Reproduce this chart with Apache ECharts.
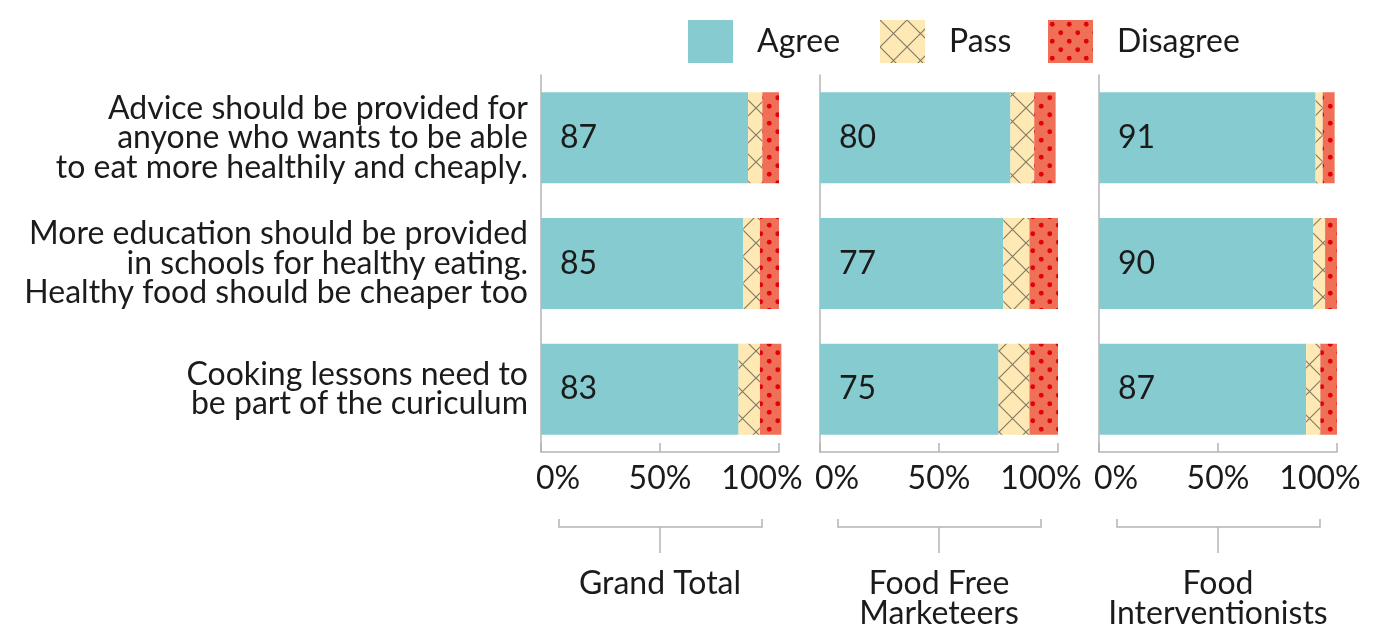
<!DOCTYPE html>
<html>
<head>
<meta charset="utf-8">
<script src="https://cdn.jsdelivr.net/npm/echarts@6/dist/echarts.min.js"></script>
<style>
  html, body { margin: 0; padding: 0; background: #fff; }
  #chart { width: 1375px; height: 626px; }
</style>
</head>
<body>
<div id="chart"></div>
<script>
// ---- data ----
const categories = [
  'Advice should be provided for\nanyone who wants to be able\nto eat more healthily and cheaply.',
  'More education should be provided\nin schools for healthy eating.\nHealthy food should be cheaper too',
  'Cooking lessons need to\nbe part of the curiculum'
];
const panels = ['Grand Total', 'Food Free\nMarketeers', 'Food\nInterventionists'];
const seriesNames = ['Agree', 'Pass', 'Disagree'];
const xTicks = [0, 50, 100];

const agreeGrandTotal = [87, 85, 83];
const passGrandTotal = [6, 7, 9];
const disagreeGrandTotal = [7, 8, 9];

const agreeFreeMarketeers = [80, 77, 75];
const passFreeMarketeers = [10, 11, 13];
const disagreeFreeMarketeers = [9, 12, 12];

const agreeInterventionists = [91, 90, 87];
const passInterventionists = [3, 5, 6];
const disagreeInterventionists = [5, 5, 7];

const panelValues = [
  [agreeGrandTotal, passGrandTotal, disagreeGrandTotal],
  [agreeFreeMarketeers, passFreeMarketeers, disagreeFreeMarketeers],
  [agreeInterventionists, passInterventionists, disagreeInterventionists]
];

// ---- styles ----
const FONT = 'Lato';
const FS = 32;
const TXT = '#1b1b1b';
const AX = '#b4b4b4';

function crossPattern() {
  const s = 27, c = document.createElement('canvas');
  c.width = s; c.height = s;
  const g = c.getContext('2d');
  g.fillStyle = '#FEE9B4'; g.fillRect(0, 0, s, s);
  g.strokeStyle = '#857c66'; g.lineWidth = 1.2;
  g.beginPath();
  g.moveTo(-2, -2); g.lineTo(s + 2, s + 2);
  g.moveTo(s + 2, -2); g.lineTo(-2, s + 2);
  g.stroke();
  return { image: c, repeat: 'repeat' };
}
function dotPattern() {
  const s = 17, c = document.createElement('canvas');
  c.width = s; c.height = s;
  const g = c.getContext('2d');
  g.fillStyle = '#EF7056'; g.fillRect(0, 0, s, s);
  g.fillStyle = '#E1000C';
  [[4.25, 4.25], [12.75, 12.75]].forEach(p => {
    g.beginPath(); g.arc(p[0], p[1], 2.4, 0, Math.PI * 2); g.fill();
  });
  return { image: c, repeat: 'repeat' };
}
const fills = ['#86CBCF', crossPattern(), dotPattern()];

const gridLefts = [541, 820, 1099];
const gridW = 238, gridTop = 75, gridH = 377;

const grids = gridLefts.map(l => ({
  left: l, top: gridTop, width: gridW, height: gridH,
  containLabel: false, outerBoundsMode: 'none'
}));

const xAxes = panels.map((p, i) => ({
  type: 'value', gridIndex: i, min: 0, max: 100, interval: 50,
  axisLine: { show: true, lineStyle: { color: AX, width: 1.5 } },
  axisTick: { show: true, inside: true, length: 9, lineStyle: { color: AX, width: 1.5 } },
  splitLine: { show: false },
  axisLabel: {
    fontFamily: FONT, fontSize: FS, color: TXT, margin: 12, lineHeight: 30,
    formatter: v => v === xTicks[0] ? '{l|' + v + '%}' : (v === xTicks[2] ? '{r|' + v + '%}' : v + '%'),
    rich: {
      l: { fontFamily: FONT, fontSize: FS, color: TXT, padding: [0, 0, 0, 34] },
      r: { fontFamily: FONT, fontSize: FS, color: TXT, padding: [0, 34, 0, 0] }
    }
  },
  name: p, nameLocation: 'middle', nameGap: 117,
  nameTextStyle: { fontFamily: FONT, fontSize: FS, color: TXT, lineHeight: 29.5, align: 'center' }
}));

const yAxes = panels.map((p, i) => ({
  type: 'category', gridIndex: i, data: categories, inverse: true,
  axisLine: { show: true, lineStyle: { color: AX, width: 1.5 } },
  axisTick: { show: false },
  axisLabel: {
    show: i === 0, fontFamily: FONT, fontSize: FS, color: TXT, lineHeight: 29.5, margin: 13, align: 'right'
  }
}));

const series = [];
panelValues.forEach((vals, pi) => {
  vals.forEach((arr, si) => {
    series.push({
      type: 'bar', name: seriesNames[si], xAxisIndex: pi, yAxisIndex: pi,
      stack: 'p' + pi, data: arr, barWidth: 91, clip: false,
      itemStyle: { color: fills[si] },
      label: si === 0 ? {
        show: true, position: 'insideLeft', distance: 19,
        fontFamily: FONT, fontSize: FS, color: TXT
      } : { show: false },
      emphasis: { disabled: true }
    });
  });
});

const legendLefts = [688, 880, 1048];
const legends = seriesNames.map((n, i) => ({
  data: [{ name: n, icon: 'rect' }], left: legendLefts[i], top: 20, padding: 0,
  itemWidth: 45, itemHeight: 43, selectedMode: false,
  textStyle: { fontFamily: FONT, fontSize: FS, color: TXT, padding: [0, 0, 0, 19] }
}));

const graphics = [];
gridLefts.forEach(l => {
  const x0 = l + 18, x1 = l + gridW - 17, cx = l + gridW / 2;
  graphics.push({
    type: 'polyline', silent: true,
    shape: { points: [[x0, 519], [x0, 527], [x1, 527], [x1, 519]] },
    style: { stroke: AX, lineWidth: 1.5, fill: null }
  });
  graphics.push({
    type: 'line', silent: true,
    shape: { x1: cx, y1: 527, x2: cx, y2: 553 },
    style: { stroke: AX, lineWidth: 1.5 }
  });
});

const chart = echarts.init(document.getElementById('chart'), null, { renderer: 'canvas' });
chart.setOption({
  animation: false,
  backgroundColor: '#fff',
  legend: legends,
  grid: grids,
  xAxis: xAxes,
  yAxis: yAxes,
  series: series,
  graphic: graphics
});
</script>
</body>
</html>
